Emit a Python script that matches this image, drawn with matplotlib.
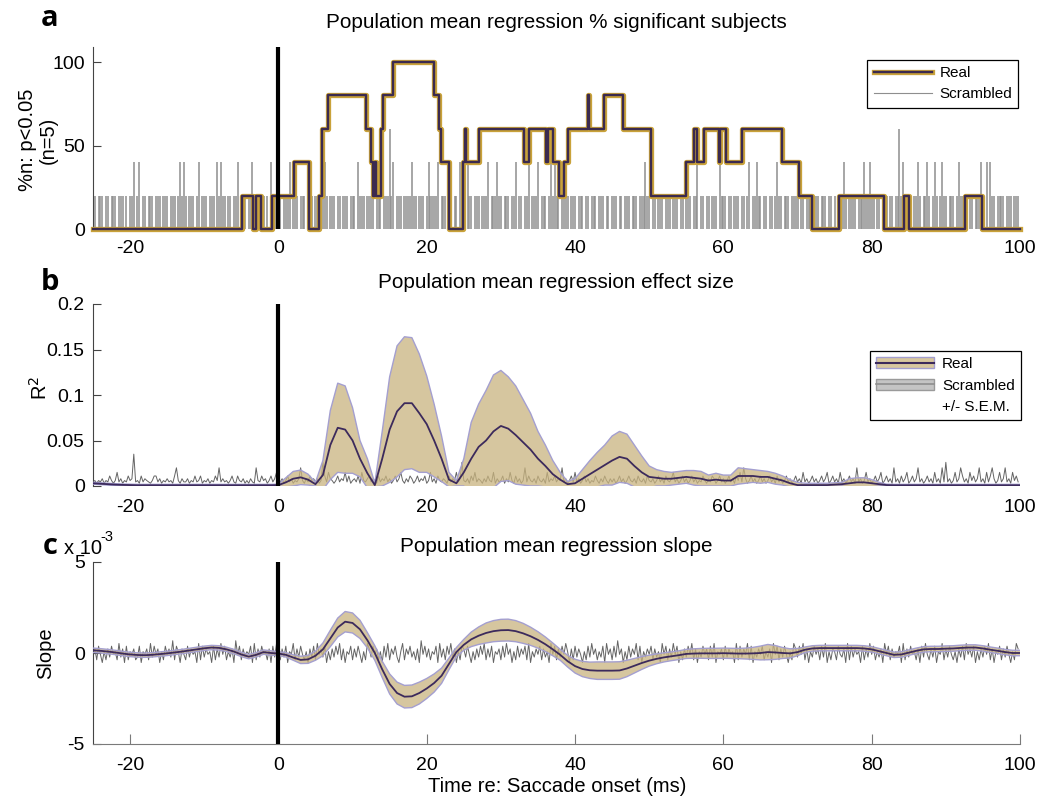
import numpy as np
import matplotlib
matplotlib.use('Agg')
import matplotlib.pyplot as plt
from matplotlib.patches import Patch
from matplotlib.lines import Line2D
from matplotlib.legend_handler import HandlerTuple

plt.rcParams['font.family'] = ['Liberation Sans', 'DejaVu Sans']
plt.rcParams['axes.unicode_minus'] = False

# ---------------- data ----------------
x_ticks = [-20, 0, 20, 40, 60, 80, 100]

# Panel a: real (% significant subjects), step changes (time ms, value after change)
real_a_t = [-25, -4.85, -3.4, -3.05, -2.3, -0.85, 2.06, 4.1, 5.43, 5.88, 6.68, 11.84, 12.43, 12.74,
            13.0, 13.2, 13.86, 14.09, 15.43, 21.04, 21.71, 21.94, 23.06, 24.85, 25.1, 25.3, 27.1,
            33.15, 33.83, 36.1, 36.3, 37.0, 37.9, 38.55, 39.0, 41.7, 41.9, 43.9, 46.4, 50.2, 54.9,
            56.1, 56.5, 57.4, 59.4, 59.6, 60.3, 62.5, 67.9, 70.2, 72.0, 75.55, 81.6, 84.3, 84.97,
            92.6, 94.85]
real_a_v = [0, 20, 0, 20, 0, 20, 40, 0, 20, 60, 80, 60, 40, 20,
            40, 20, 60, 80, 100, 80, 60, 40, 0, 40, 60, 40, 60,
            40, 60, 40, 60, 40, 20, 40, 60, 80, 60, 80, 60, 20, 40,
            60, 40, 60, 40, 60, 40, 60, 40, 20, 0, 20, 0, 20, 0,
            20, 0]

# Scrambled samples every 0.25 ms from -25 ms; digit = number of significant subjects (x20 %)
scr_a_digits = [
    "1101110110" "1110111010" "1120120110" "1110111011" "1011101212",
    "1011101201" "1101110212" "1101101120" "1110112011" "0110102011",
    "1101112011" "1011101110" "1101121011" "1011011101" "1102111011",
    "1101110111" "3120111011" "1121101110" "1211112011" "1011011021",
    "1021101110" "1112011121" "1011101120" "1101120111" "2011101212",
    "1101121011" "1011101101" "1101110110" "1110110111" "0111011121",
    "1011011101" "1101110110" "1110112011" "0110111021" "1101101110",
    "1101201121" "1011011012" "1101110111" "2011011101" "1101110110",
    "1011121011" "1101112112" "1101101110" "1101131211" "1101121011",
    "2101210121" "1011101211" "1101101112" "1020211011" "1101110111",
]

# Panel b: mean R^2 and S.E.M., 1 ms steps from -25 to 100
b_mean = [0.003, 0.0025, 0.002, 0.0015, 0.0012, 0.001,
          0.0008, 0.0008, 0.0008, 0.0008, 0.0008, 0.0008, 0.0008, 0.0008, 0.0008, 0.0008,
          0.0008, 0.0008, 0.0008, 0.0008, 0.0008, 0.0008, 0.0008, 0.0008, 0.0008,
          0.001, 0.004, 0.008, 0.0095, 0.007, 0.002, 0.012, 0.045, 0.064, 0.062,
          0.05, 0.03, 0.014, 0.001, 0.03, 0.062, 0.082, 0.091, 0.091, 0.08,
          0.068, 0.05, 0.03, 0.007, 0.003, 0.015, 0.03, 0.043, 0.05, 0.06,
          0.066, 0.063, 0.056, 0.048, 0.04, 0.03, 0.022, 0.013, 0.007, 0.002,
          0.003, 0.008, 0.013, 0.018, 0.023, 0.028, 0.032, 0.03, 0.022, 0.015,
          0.01, 0.009, 0.008, 0.008, 0.009, 0.01, 0.009, 0.008, 0.006, 0.007,
          0.006, 0.006, 0.011, 0.011, 0.011, 0.01, 0.01, 0.008, 0.006, 0.003,
          0.001, 0.001, 0.001, 0.001, 0.001, 0.0015, 0.002, 0.003, 0.004, 0.004,
          0.003, 0.002, 0.001,
          0.0008, 0.0008, 0.0008, 0.0008, 0.0008, 0.0008, 0.0008, 0.0008, 0.0008,
          0.0008, 0.0008, 0.0008, 0.0008, 0.0008, 0.0008, 0.0008, 0.0008, 0.0008]
b_sem = [0.001] * 25 + [
          0.001, 0.005, 0.008, 0.008, 0.006, 0.002, 0.016, 0.038, 0.049, 0.048,
          0.036, 0.02, 0.016, 0.002, 0.03, 0.058, 0.072, 0.073, 0.072, 0.065,
          0.053, 0.04, 0.025, 0.008, 0.003, 0.015, 0.04, 0.047, 0.055, 0.062,
          0.061, 0.057, 0.054, 0.047, 0.04, 0.03, 0.023, 0.015, 0.008, 0.003,
          0.005, 0.01, 0.015, 0.019, 0.022, 0.027, 0.028, 0.027, 0.023, 0.018,
          0.012, 0.009, 0.008, 0.007, 0.007, 0.007, 0.008, 0.008, 0.006, 0.007,
          0.006, 0.006, 0.009, 0.008, 0.007, 0.007, 0.006, 0.006, 0.005, 0.004,
          0.003, 0.002, 0.002, 0.002, 0.002, 0.002, 0.002, 0.005, 0.005, 0.005,
          0.004, 0.002, 0.001] + [0.001] * 18
b_levels = [0.0015, 0.003, 0.0045, 0.006, 0.008, 0.011, 0.015, 0.02, 0.026, 0.035]
scr_b_digits = [
    "2313241325" "3136241325" "3492315243" "2135524132" "4231573142",
    "2413252351" "3241325372" "4231352153" "2413142173" "2534135246",
    "3241352413" "2473142534" "2413852643" "1352436251" "3425163245",
    "2431524352" "4135246314" "2541352435" "1362415324" "3152436248",
    "3241536243" "1425326142" "3514263152" "4137253241" "5324162435",
    "2437241352" "6241352413" "2531425314" "2413524135" "3241532415",
    "3241352415" "3246241352" "4135241325" "3142541352" "4135241536",
    "2741352413" "5241352415" "2413524135" "2416241352" "4135246135",
    "2416241352" "4172413624" "1352461352" "4172415246" "1352472413",
    "5241624172" "8241362475" "2416352472" "4162574136" "2472416352",
]

# Panel c: mean slope and S.E.M. (x 1e-3), 1 ms steps from -25 to 100
c_mean = [0.15, 0.12, 0.08, 0.03, -0.03, -0.08, -0.11, -0.12, -0.1, -0.06,
          -0.02, 0.03, 0.08, 0.14, 0.2, 0.26, 0.3, 0.28, 0.2, 0.08,
          -0.08, -0.2, -0.1, 0.05, 0.0,
          -0.03, -0.1, -0.25, -0.38, -0.35, -0.15, 0.2, 0.8, 1.4, 1.72,
          1.65, 1.3, 0.7, 0.0, -0.9, -1.7, -2.2, -2.4, -2.38, -2.2,
          -1.95, -1.65, -1.25, -0.6, 0.05, 0.45, 0.75, 0.95, 1.1, 1.2,
          1.25, 1.26, 1.2, 1.08, 0.92, 0.72, 0.48, 0.2, -0.1, -0.45,
          -0.72, -0.88, -0.95, -0.97, -0.97, -0.97, -0.96, -0.85, -0.7, -0.55,
          -0.42, -0.32, -0.24, -0.18, -0.12, -0.05, -0.03, -0.02, -0.02, -0.02,
          -0.01, -0.02, -0.03, -0.03, -0.02, 0.0, 0.05, 0.03, 0.0, -0.02,
          0.05, 0.18, 0.25, 0.27, 0.27, 0.27, 0.27, 0.27, 0.27, 0.25,
          0.2, 0.1, 0.0, -0.1, -0.08, 0.02, 0.12, 0.2, 0.22, 0.22,
          0.24, 0.25, 0.28, 0.3, 0.3, 0.25, 0.18, 0.12, 0.05, 0.0, 0.0]
c_sem = [0.12] * 25 + [
          0.1, 0.12, 0.15, 0.2, 0.22, 0.25, 0.35, 0.45, 0.52, 0.56,
          0.55, 0.5, 0.42, 0.4, 0.45, 0.55, 0.6, 0.62, 0.62, 0.6,
          0.55, 0.5, 0.42, 0.32, 0.25, 0.3, 0.4, 0.48, 0.55, 0.58,
          0.6, 0.6, 0.58, 0.55, 0.5, 0.45, 0.4, 0.35, 0.3, 0.32,
          0.38, 0.42, 0.45, 0.48, 0.48, 0.48, 0.48, 0.45, 0.4, 0.35,
          0.3, 0.27, 0.25, 0.24, 0.24, 0.25, 0.26, 0.27, 0.28, 0.28,
          0.28, 0.28, 0.28, 0.3, 0.33, 0.38, 0.42, 0.38, 0.3, 0.25,
          0.2] + [0.15] * 30
scr_c_digits = [
    "3627415263" "7452836172" "5462371546" "2837461527" "4639275164",
    "2736451827" "3645172638" "4725361947" "2635471826" "3745261738",
    "4263715482" "6374251637" "2846371526" "3748261547" "2637415286",
    "3746251738" "2647315826" "4735261947" "3625471836" "2748361527",
    "6374152637" "4826371546" "2738461527" "3647281536" "4726351847",
    "2637485162" "7364152738" "4625371846" "2739461527" "3648271536",
    "4726351847" "2638471526" "3748261537" "4627381546" "2736451827",
    "3648271536" "4725361847" "2637415286" "3748261537" "4627381526",
    "5274361827" "3645172638" "4725361847" "2635471826" "3745261738",
    "4263715482" "6374251637" "2846371526" "3748261547" "2637415286",
]

# ---------------- styles ----------------
GOLD = '#c9a23a'
DARK = '#3b2a4f'
TAN = '#c9b47f'
LAV = '#a49fd0'
PURP = '#3c2a5c'
GRAY_A = '#8e8e8e'
GRAY_N = '#646464'
FS_TICK = 14
FS_TXT = 14.5

W, H = 1045, 799
fig = plt.figure(figsize=(W / 100, H / 100), dpi=100)


def ax_at(l, t, r, b):
    return fig.add_axes([l / W, 1 - b / H, (r - l) / W, (b - t) / H])


axA = ax_at(93, 47, 1020, 229)
axB = ax_at(93, 304, 1020, 486)
axC = ax_at(93, 562, 1020, 744)

scr_t = -25 + 0.25 * np.arange(500)
t1 = np.arange(-25, 101)

# ---- panel a ----
scr_a = np.array([int(ch) for ch in "".join(scr_a_digits)]) * 20
nz = scr_a > 0
axA.vlines(scr_t[nz], 0, scr_a[nz], color=GRAY_A, lw=1.1, zorder=1)
st = list(real_a_t) + [100]
sv = list(real_a_v) + [real_a_v[-1]]
axA.step(st, sv, where='post', color=GOLD, lw=3.8, zorder=3, clip_on=False)
axA.step(st, sv, where='post', color=DARK, lw=1.7, zorder=4, clip_on=False)
axA.axvline(0, color='k', lw=3, zorder=5)
axA.set_ylim(0, 109)
axA.set_yticks([0, 50, 100])

hA = [(Line2D([], [], color=GOLD, lw=3.8), Line2D([], [], color=DARK, lw=1.7)),
      Line2D([], [], color=GRAY_A, lw=0.8)]
legA = axA.legend(hA, ['Real', 'Scrambled'], loc='upper right', bbox_to_anchor=(0.998, 0.93),
                  borderaxespad=0, fontsize=11, handlelength=3.8, handletextpad=0.5,
                  fancybox=False, framealpha=1, edgecolor='k',
                  handler_map={tuple: HandlerTuple(ndivide=1)})
legA.get_frame().set_linewidth(0.9)

# ---- panel b ----
b_mean_a = np.array(b_mean)
b_sem_a = np.array(b_sem)
scr_b = np.array([b_levels[int(ch)] for ch in "".join(scr_b_digits)])
axB.plot(scr_t, scr_b, color=GRAY_N, lw=0.7, zorder=1)
axB.fill_between(t1, b_mean_a - b_sem_a, b_mean_a + b_sem_a, facecolor=TAN, alpha=0.75, lw=0, zorder=2)
axB.plot(t1, b_mean_a + b_sem_a, color=LAV, lw=1.0, zorder=3)
axB.plot(t1, b_mean_a - b_sem_a, color=LAV, lw=1.0, zorder=3)
axB.plot(t1, b_mean_a, color=PURP, lw=1.3, zorder=4)
axB.axvline(0, color='k', lw=3, zorder=5)
axB.set_ylim(0, 0.2)
axB.set_yticks([0, 0.05, 0.1, 0.15, 0.2])
axB.set_yticklabels(['0', '0.05', '0.1', '0.15', '0.2'])

hB = [(Patch(facecolor='#d8c79e', edgecolor=LAV, lw=1), Line2D([], [], color=PURP, lw=1.5)),
      (Patch(facecolor='#c4c4c4', edgecolor='#9a9a9a', lw=1), Line2D([], [], color='#8f8f8f', lw=1.2)),
      Line2D([], [], color='none')]
legB = axB.legend(hB, ['Real', 'Scrambled', '+/- S.E.M.'], loc='upper right',
                  bbox_to_anchor=(1.001, 0.742), borderaxespad=0, fontsize=11,
                  handlelength=3.8, handletextpad=0.5, fancybox=False, framealpha=1,
                  edgecolor='k', handler_map={tuple: HandlerTuple(ndivide=1)})
legB.get_frame().set_linewidth(0.9)

# ---- panel c ----
c_mean_a = np.array(c_mean)
c_sem_a = np.array(c_sem)
scr_c = (np.array([int(ch) for ch in "".join(scr_c_digits)]) - 4.5) * 0.15
axC.plot(scr_t, scr_c, color=GRAY_N, lw=0.7, zorder=1)
axC.fill_between(t1, c_mean_a - c_sem_a, c_mean_a + c_sem_a, facecolor=TAN, alpha=0.75, lw=0, zorder=2)
axC.plot(t1, c_mean_a + c_sem_a, color=LAV, lw=1.0, zorder=3)
axC.plot(t1, c_mean_a - c_sem_a, color=LAV, lw=1.0, zorder=3)
axC.plot(t1, c_mean_a, color=PURP, lw=1.3, zorder=4)
axC.axvline(0, color='k', lw=3, zorder=5)
axC.set_ylim(-5, 5)
axC.set_yticks([-5, 0, 5])
fig.text(64 / W, 1 - 548 / H, 'x 10', fontsize=FS_TXT, ha='left', va='center')
fig.text(100 / W, 1 - 537 / H, '-3', fontsize=10.5, ha='left', va='center')

# ---- common axis styling ----
for ax, pad in ((axA, 8), (axB, 9), (axC, 9)):
    ax.set_xlim(-25, 100)
    ax.set_xticks(x_ticks)
    ax.spines['top'].set_visible(False)
    ax.spines['right'].set_visible(False)
    ax.spines['left'].set_color('#444444')
    ax.tick_params(axis='y', direction='in', length=6, width=0.8, colors='#444444',
                   labelcolor='k', labelsize=FS_TICK, pad=6)
    ax.tick_params(axis='x', labelsize=FS_TICK, pad=pad)
for ax in (axA, axB):
    ax.spines['bottom'].set_visible(False)
    ax.tick_params(axis='x', length=0)
axC.spines['bottom'].set_color('#7a7a7a')
axC.tick_params(axis='x', direction='in', length=7, width=0.8, colors='#7a7a7a', labelcolor='k')

# ---- texts ----
fig.text(556 / W, 1 - 22 / H, 'Population mean regression % significant subjects',
         ha='center', va='center', fontsize=14.9)
fig.text(556 / W, 1 - 282 / H, 'Population mean regression effect size',
         ha='center', va='center', fontsize=14.9)
fig.text(556 / W, 1 - 546 / H, 'Population mean regression slope',
         ha='center', va='center', fontsize=14.9)
fig.text(557 / W, 1 - 787 / H, 'Time re: Saccade onset (ms)',
         ha='center', va='center', fontsize=FS_TXT)
fig.text(38 / W, 1 - 140 / H, '%n: p<0.05\n(n=5)', rotation=90, ha='center', va='center',
         multialignment='center', fontsize=FS_TXT, linespacing=1.15)
fig.text(40 / W, 1 - 388 / H, r'R$^2$', rotation=90, ha='center', va='center', fontsize=FS_TXT)
fig.text(46 / W, 1 - 653 / H, 'Slope', rotation=90, ha='center', va='center', fontsize=FS_TXT)
for lbl, y in (('a', 18), ('b', 283), ('c', 547)):
    fig.text(50 / W, 1 - y / H, lbl, ha='center', va='center', fontsize=21,
             fontweight='bold', family=['Open Sans', 'DejaVu Sans'])

fig.savefig('out.png', dpi=100)
